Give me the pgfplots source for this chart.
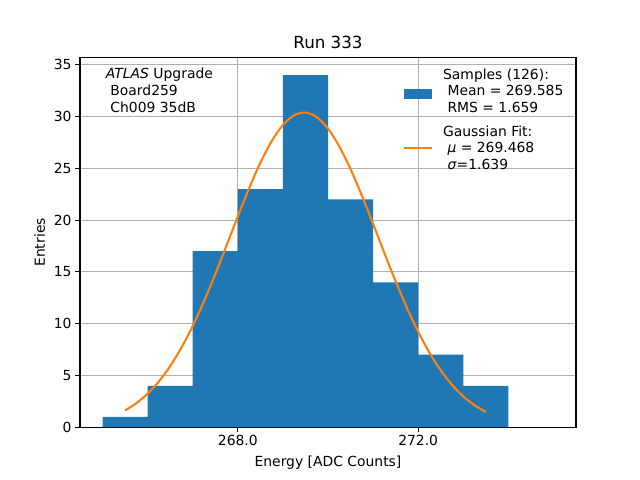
\documentclass[border=0pt]{standalone}
\usepackage{fontspec}
\setmainfont{DejaVu Sans}
\usepackage{pgfplots}
\pgfplotsset{compat=1.18}
\definecolor{mplblue}{HTML}{1F77B4}
\definecolor{mplorange}{HTML}{FF7F0E}
\definecolor{gridgray}{HTML}{B0B0B0}
\begin{document}
\begin{tikzpicture}[font=\fontsize{13.9bp}{16.7bp}\selectfont]
\path[use as bounding box] (0,0) rectangle (640bp,480bp);
\begin{axis}[
  at={(80bp,52.8bp)}, anchor=south west,
  scale only axis, width=496bp, height=369.6bp,
  xmin=264.5, xmax=275.5, ymin=0, ymax=35.7,
  xtick={268,272}, xticklabels={268.0,272.0},
  ytick={0,5,...,35},
  /pgf/number format/assume math mode=true,
  grid=major, major grid style={gridgray, line width=1.1bp},
  axis line style={line width=1.1bp},
  tick style={black, line width=1.1bp},
  tick align=outside, major tick length=4.9bp,
  xtick pos=bottom, ytick pos=left,
  title={Run 333}, title style={font=\fontsize{16.7bp}{20bp}\selectfont, yshift=-1bp},
  xlabel={Energy [ADC Counts]}, ylabel={Entries},
  xlabel style={yshift=-3bp}, ylabel style={yshift=2bp},
  legend style={draw=none, fill=none, at={(0.985,0.985)}, anchor=north east,
    row sep=23bp, nodes={inner sep=2bp},
    /tikz/every odd column/.append style={column sep=8bp}},
  legend cell align=left,
]
\addplot[ybar interval, fill=mplblue, draw=none,
  legend image code/.code={\fill[mplblue] (0bp,-17bp) rectangle (28bp,-7bp);}]
  coordinates {(265,1) (266,4) (267,17) (268,23) (269,34) (270,22) (271,14) (272,7) (273,4) (274,0) (275,0)};
\addlegendentry{\begin{tabular}{@{}l@{}}Samples (126):\\\ Mean = 269.585\\\ RMS = 1.659\end{tabular}}
\addplot[mplorange, line width=2.08bp, smooth,
  legend image code/.code={\draw[mplorange, line width=2.08bp] (0bp,-8.5bp) -- (28bp,-8.5bp);}]
  coordinates {
(265.5,1.62) (265.75,2.32) (266.0,3.24) (266.25,4.42) (266.5,5.90) (266.75,7.69)
(267.0,9.78) (267.25,12.17) (267.5,14.78) (267.75,17.55) (268.0,20.36) (268.25,23.07)
(268.5,25.54) (268.75,27.62) (269.0,29.19) (269.25,30.13) (269.5,30.39) (269.75,29.95)
(270.0,28.84) (270.25,27.13) (270.5,24.93) (270.75,22.39) (271.0,19.64) (271.25,16.83)
(271.5,14.10) (271.75,11.53) (272.0,9.22) (272.25,7.20) (272.5,5.49) (272.75,4.09)
(273.0,2.98) (273.25,2.12) (273.5,1.47)};
\addlegendentry{\begin{tabular}{@{}l@{}}Gaussian Fit:\\\ \textit{μ} = 269.468\\\ \textit{σ}=1.639\end{tabular}}
\node[anchor=north west, align=left, inner sep=0pt] at (axis description cs:0.052,0.972)
  {\textit{ATLAS} Upgrade\\\ Board259\\\ Ch009 35dB};
\end{axis}
\end{tikzpicture}
\end{document}
